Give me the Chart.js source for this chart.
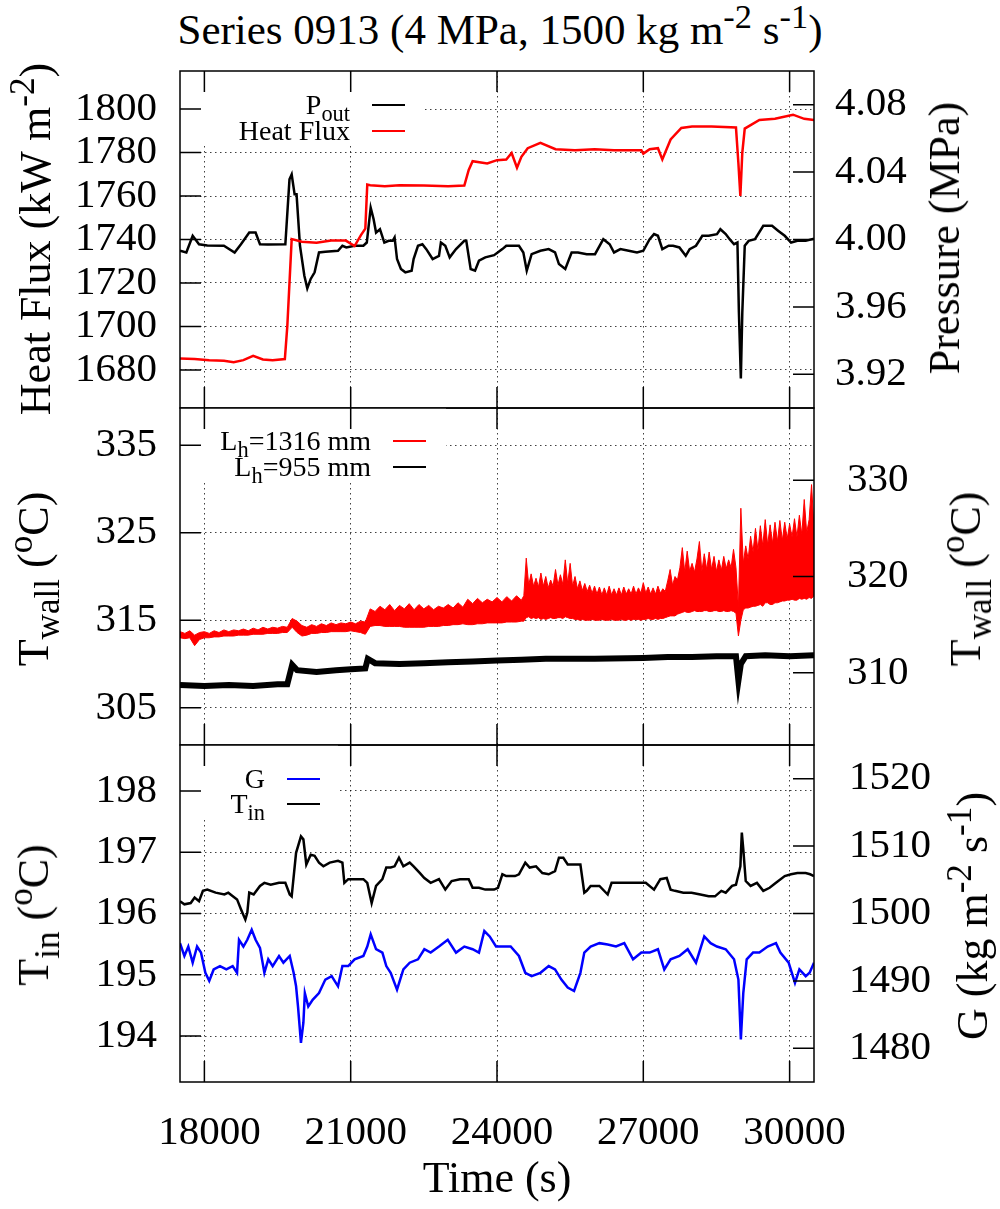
<!DOCTYPE html>
<html>
<head>
<meta charset="utf-8">
<title>Series 0913 (4 MPa, 1500 kg m-2 s-1)</title>
<script src="https://cdn.jsdelivr.net/npm/chart.js"></script>
<style>
  body { margin: 0; background: #fff; }
  #page { position: relative; width: 1000px; height: 1209px; overflow: hidden;
          font-family: "Liberation Serif", "Times New Roman", serif; color: #000; }
  #page canvas { position: absolute; left: 0; }
  .txt { position: absolute; white-space: nowrap; line-height: 1; font-size: 44px; transform: translate(-50%, -50%); }
  .rot { transform: translate(-50%, -50%) rotate(-90deg); }
  .key { position: absolute; white-space: nowrap; line-height: 1; font-size: 28px; text-align: right; transform: translateY(-50%); }
  .swatch { position: absolute; width: 33px; height: 0; border-top: 2.5px solid #000; transform: translateY(-50%); }
  sub, sup { font-size: 0.8em; line-height: 0; }
  sub { vertical-align: -0.3em; }
  sup { vertical-align: 0.45em; }
</style>
</head>
<body>
<div id="page">
  <canvas id="topChart" width="1000" height="345" style="top:67px"></canvas>
  <canvas id="midChart" width="1000" height="345" style="top:404px"></canvas>
  <canvas id="botChart" width="1000" height="421" style="top:741px"></canvas>

  <!-- titles -->
  <div class="txt" style="left:500px;top:29px;font-size:43px">Series 0913 (4 MPa, 1500 kg m<sup>-2</sup> s<sup>-1</sup>)</div>
  <div class="txt" style="left:497px;top:1178px">Time (s)</div>
  <div class="txt rot" style="left:36px;top:239px">Heat Flux (kW m<sup>-2</sup>)</div>
  <div class="txt rot" style="left:945px;top:238px">Pressure (MPa)</div>
  <div class="txt rot" style="left:34px;top:579px">T<sub>wall</sub> (<sup>o</sup>C)</div>
  <div class="txt rot" style="left:966px;top:579px">T<sub>wall</sub> (<sup>o</sup>C)</div>
  <div class="txt rot" style="left:34px;top:915px">T<sub>in</sub> (<sup>o</sup>C)</div>
  <div class="txt rot" style="left:973px;top:916px">G (kg m<sup>-2</sup> s<sup>-1</sup>)</div>

  <!-- keys -->
  <div class="key" style="right:650px;top:105px">P<sub>out</sub></div>
  <div class="swatch" style="left:372px;top:105px;border-color:#000"></div>
  <div class="key" style="right:650px;top:131px">Heat Flux</div>
  <div class="swatch" style="left:372px;top:131px;border-color:#f00"></div>

  <div class="key" style="right:629px;top:441px">L<sub>h</sub>=1316 mm</div>
  <div class="swatch" style="left:393px;top:441px;border-color:#f00"></div>
  <div class="key" style="right:629px;top:467px">L<sub>h</sub>=955 mm</div>
  <div class="swatch" style="left:393px;top:467px;border-color:#000"></div>

  <div class="key" style="right:735px;top:779px">G</div>
  <div class="swatch" style="left:287px;top:779px;border-color:#00f"></div>
  <div class="key" style="right:735px;top:804px">T<sub>in</sub></div>
  <div class="swatch" style="left:287px;top:804px;border-color:#000"></div>
</div>

<script>
// ---- axis ticks ----
const timeTicks = [18000, 21000, 24000, 27000, 30000];
const hfTicks = [1680, 1700, 1720, 1740, 1760, 1780, 1800];
const pTicks = [3.92, 3.96, 4.00, 4.04, 4.08];
const twLeftTicks = [305, 315, 325, 335];
const twRightTicks = [310, 320, 330];
const tinTicks = [194, 195, 196, 197, 198];
const gTicks = [1480, 1490, 1500, 1510, 1520];

// ---- top panel: heat flux (left) and outlet pressure (right) ----
const hfTime = [17500,17800,18100,18400,18600,18800,19000,19200,19400,19650,19700,19790,20000,20300,20600,20900,21080,21210,21300,21340,21400,21700,22000,22500,23000,23330,23420,23500,23800,24000,24190,24300,24410,24500,24630,24890,25200,25600,26000,26400,26960,27000,27130,27300,27390,27560,27780,28000,28400,28900,28950,28990,29030,29080,29380,29700,30070,30300,30500];
const hfVal = [1685.3,1685.0,1684.5,1684.2,1683.6,1684.5,1686.5,1684.8,1684.5,1685.0,1700.0,1740.2,1739.0,1738.5,1739.5,1739.5,1737.0,1742.0,1745.0,1765.3,1765.0,1764.5,1765.0,1764.8,1764.5,1764.8,1772.0,1776.0,1775.0,1776.5,1776.8,1779.8,1773.0,1778.0,1782.0,1784.5,1781.5,1781.0,1781.5,1781.0,1781.0,1779.5,1781.5,1782.0,1776.8,1786.0,1791.3,1792.0,1792.0,1791.5,1775.0,1760.0,1780.0,1791.0,1795.0,1795.5,1797.4,1795.5,1795.0];

const pTime = [17500,17630,17760,17890,18060,18400,18620,18750,18920,19050,19140,19300,19660,19745,19790,19850,19890,19960,20050,20110,20180,20260,20350,20480,20740,20830,20910,21080,21260,21330,21410,21470,21520,21600,21690,21780,21860,21900,21950,22030,22120,22250,22290,22380,22470,22550,22680,22810,22850,22940,23030,23160,23330,23370,23460,23550,23630,23760,23940,24110,24190,24450,24540,24610,24710,24890,25060,25190,25270,25400,25530,25660,25840,26010,26180,26310,26400,26530,26700,26870,27000,27130,27220,27300,27390,27520,27610,27740,27870,27950,28080,28210,28340,28510,28580,28690,28770,28860,28930,28960,29000,29030,29080,29160,29290,29460,29640,29770,29900,30030,30160,30330,30500];
const pVal = [3.9933,3.9923,4.0022,3.9972,3.9965,3.9963,3.9923,3.9972,4.0041,4.0041,3.9972,3.9970,3.9972,4.0357,4.0386,4.0268,4.0268,3.9963,3.9785,3.9710,3.9766,3.9805,3.9923,3.9927,3.9933,3.9963,3.9953,3.9963,3.9963,3.9982,4.0189,4.0120,4.0041,4.0061,3.9982,3.9992,3.9992,4.0012,3.9884,3.9825,3.9805,3.9815,3.9884,3.9963,3.9972,3.9943,3.9884,3.9903,3.9982,3.9963,3.9894,3.9943,3.9992,3.9992,3.9825,3.9815,3.9874,3.9894,3.9907,3.9943,3.9963,3.9963,3.9923,3.9815,3.9913,3.9933,3.9943,3.9923,3.9854,3.9825,3.9923,3.9923,3.9913,3.9913,4.0002,3.9972,3.9923,3.9943,3.9933,3.9923,3.9933,4.0002,4.0032,4.0022,3.9943,3.9963,3.9963,3.9953,3.9903,3.9943,3.9963,4.0022,4.0022,4.0032,4.0061,4.0032,4.0002,3.9972,3.9982,3.9569,3.9175,3.9569,3.9963,3.9992,4.0002,4.0081,4.0081,4.0051,4.0022,3.9982,3.9992,3.9992,4.0005];

// ---- middle panel: wall temperatures ----
// the noisy 1316 mm trace is kept as its upper and lower envelope
const twTime = [
  17500,17600,17700,17800,17900,18000,18100,18200,18300,18400,
  18500,18600,18700,18800,18900,19000,19100,19200,19300,19400,
  19500,19600,19700,19800,19900,20000,20100,20200,20300,20400,
  20500,20600,20700,20800,20900,21000,21100,21200,21300,21400,
  21500,21600,21700,21800,21900,22000,22100,22200,22300,22400,
  22500,22600,22700,22800,22900,23000,23100,23200,23300,23400,
  23500,23600,23700,23800,23900,24000,24100,24200,24300,24400,
  24500,
  24550,24600,24650,24700,24750,24800,24850,24900,24950,25000,
  25050,25100,25150,25200,25250,25300,25350,25400,25450,25500,
  25550,25600,25650,25700,25750,25800,25850,25900,25950,26000,
  26050,26100,26150,26200,26250,26300,26350,26400,26450,26500,
  26550,26600,26650,26700,26750,26800,26850,26900,26950,27000,
  27050,27100,27150,27200,27250,27300,27350,27400,27450,27500,
  27550,27600,27650,27700,27750,27800,27850,27900,27950,28000,
  28050,28100,28150,28200,28250,28300,28350,28400,28450,28500,
  28550,28600,28650,28700,28750,28800,28850,28900,28950,29000,
  29050,29100,29150,29200,29250,29300,29350,29400,29450,29500,
  29550,29600,29650,29700,29750,29800,29850,29900,29950,30000,
  30050,30100,30150,30200,30250,30300,30350,30400,30450,30500];
const tw1316High = [
  313.7,313.5,313.8,313.3,313.6,313.7,313.5,313.8,313.6,313.9,
  313.7,313.9,313.8,314.0,313.8,314.1,313.9,314.2,314.0,314.2,
  314.1,314.3,314.2,315.2,314.9,314.4,314.2,314.5,314.3,314.6,
  314.4,314.7,314.5,314.7,314.6,314.8,314.6,314.9,314.8,316.3,
  316.0,316.6,316.2,316.8,316.1,316.7,316.3,316.9,316.2,316.8,
  316.3,316.7,316.2,316.6,316.4,316.8,316.4,317.0,316.5,317.4,
  316.9,317.5,317.0,317.4,317.1,317.6,317.1,317.7,317.2,317.8,
  317.3,
  317.8,322.1,319.0,320.3,318.9,319.8,318.8,320.4,318.9,320.0,
  318.7,319.6,318.9,320.8,319.0,320.2,319.1,321.9,319.2,321.5,
  318.9,320.0,318.6,319.5,318.4,319.2,318.3,319.0,318.1,318.9,
  318.0,318.8,317.9,318.7,317.9,318.9,317.9,318.6,317.9,318.7,
  317.9,318.8,318.0,318.6,318.0,318.9,318.0,318.7,318.1,319.3,
  318.1,318.8,318.0,318.7,318.0,318.9,318.1,318.6,318.3,319.5,
  320.8,319.0,320.0,319.6,321.0,323.3,320.5,322.9,320.6,321.5,
  320.5,322.0,324.0,320.6,322.6,320.8,322.8,320.8,322.3,320.6,
  321.9,320.7,322.3,320.9,321.9,321.0,323.1,321.0,316.5,327.8,
  321.5,323.5,322.0,324.6,322.8,325.5,323.0,325.8,323.5,326.5,
  323.6,325.9,323.8,326.2,324.0,326.4,324.1,326.2,324.3,326.0,
  324.5,326.6,324.5,327.0,324.8,328.8,325.0,326.5,330.5,325.5];
const tw1316Low = [
  313.0,312.9,313.0,312.1,312.8,313.0,313.0,313.1,313.1,313.2,
  313.2,313.2,313.3,313.3,313.3,313.4,313.4,313.4,313.5,313.5,
  313.5,313.6,313.6,314.2,313.6,313.2,313.3,313.5,313.5,313.6,
  313.6,313.7,313.7,313.7,313.7,313.8,313.7,313.6,313.4,314.3,
  314.4,314.4,314.3,314.3,314.3,314.3,314.2,314.2,314.2,314.2,
  314.2,314.3,314.3,314.3,314.4,314.4,314.5,314.5,314.6,314.5,
  314.5,314.6,314.6,314.7,314.7,314.7,314.7,314.8,314.8,314.8,
  314.9,
  314.9,315.3,315.4,315.2,315.3,315.2,315.3,315.1,315.2,315.1,
  315.2,315.3,315.2,315.2,315.3,315.3,315.2,315.4,315.3,315.2,
  315.2,315.1,315.1,315.0,315.1,315.0,315.0,315.0,315.1,315.0,
  315.0,315.0,315.1,315.0,315.0,315.0,315.1,315.0,315.0,315.0,
  315.1,315.0,315.0,315.1,315.0,315.1,315.1,315.1,315.0,315.1,
  315.1,315.2,315.1,315.1,315.2,315.1,315.2,315.2,315.3,315.4,
  315.5,315.5,315.5,315.7,315.8,315.9,316.0,315.9,315.9,316.0,
  316.1,316.0,316.0,316.0,316.1,316.1,316.0,316.0,316.1,316.1,
  316.0,316.0,316.1,316.0,316.0,316.1,316.0,315.8,313.2,315.0,
  316.2,316.4,316.4,316.5,316.6,316.6,316.7,316.8,316.6,317.0,
  317.0,316.8,316.8,317.0,317.0,317.1,317.2,317.2,317.3,317.3,
  317.4,317.3,317.3,317.5,317.4,317.5,317.4,317.6,317.5,317.8];

const tw955Time = [17500,18000,18500,19000,19500,19700,19800,19900,20300,20700,21000,21300,21350,21500,22000,22500,23000,23500,24000,24500,25000,26000,27000,27500,28000,28500,28900,28950,29000,29100,29500,30000,30500];
const tw955Val = [307.6,307.5,307.6,307.5,307.7,307.7,309.9,309.3,309.1,309.3,309.4,309.5,310.6,310.1,310.0,310.1,310.2,310.3,310.4,310.5,310.6,310.6,310.7,310.8,310.8,310.9,310.9,308.1,310.0,310.9,311.0,310.9,311.0];

// ---- bottom panel: inlet temperature (left) and mass flux (right) ----
const tinTime = [17500,17590,17720,17800,17890,17970,18060,18230,18410,18490,18670,18750,18840,18880,18920,19010,19140,19230,19360,19530,19660,19750,19790,19880,19980,20030,20090,20180,20260,20350,20440,20570,20740,20830,20870,20950,21080,21260,21340,21430,21520,21650,21730,21820,21900,21990,22080,22210,22290,22420,22510,22640,22810,22940,23070,23240,23420,23500,23630,23760,23940,24020,24110,24190,24370,24450,24580,24670,24800,24930,25060,25190,25270,25360,25450,25580,25710,25790,25840,25920,26100,26270,26350,26530,26700,26870,27050,27220,27350,27480,27560,27650,27820,27990,28170,28340,28470,28600,28690,28820,28900,28990,29020,29050,29100,29200,29330,29460,29590,29720,29900,30030,30160,30330,30420,30500];
const tinVal = [196.20,196.15,196.17,196.26,196.20,196.37,196.39,196.34,196.31,196.34,196.23,196.07,195.90,196.01,196.34,196.31,196.45,196.50,196.47,196.50,196.50,196.31,196.28,196.99,197.26,197.21,196.80,196.96,196.94,196.83,196.77,196.83,196.86,196.83,196.50,196.56,196.56,196.56,196.50,196.17,196.45,196.56,196.75,196.75,196.77,196.91,196.77,196.83,196.77,196.66,196.58,196.50,196.56,196.39,196.53,196.56,196.56,196.42,196.42,196.39,196.39,196.42,196.64,196.61,196.61,196.64,196.83,196.75,196.77,196.66,196.64,196.69,196.91,196.91,196.80,196.80,196.80,196.34,196.37,196.45,196.45,196.31,196.50,196.50,196.50,196.50,196.50,196.39,196.56,196.58,196.39,196.37,196.34,196.34,196.31,196.28,196.28,196.37,196.34,196.45,196.47,196.77,197.32,197.05,196.53,196.45,196.50,196.37,196.42,196.50,196.61,196.64,196.66,196.66,196.64,196.61];

const gTime = [17500,17590,17670,17760,17850,17930,18020,18100,18190,18320,18450,18580,18670,18710,18800,18880,18970,19050,19140,19230,19310,19400,19530,19620,19750,19830,19880,19920,19980,20030,20060,20130,20220,20350,20480,20610,20740,20830,20950,21080,21260,21340,21410,21520,21650,21730,21820,21950,22080,22210,22380,22510,22640,22810,22990,23160,23330,23500,23630,23740,23850,23980,24110,24280,24450,24580,24710,24890,25060,25190,25320,25450,25580,25710,25790,25920,26100,26270,26440,26610,26790,26960,27130,27300,27430,27560,27740,27910,28080,28250,28380,28510,28690,28860,28950,29000,29050,29120,29250,29380,29550,29720,29810,29980,30110,30200,30330,30410,30500];
const gVal = [1495.6,1493.7,1495.1,1492.7,1495.1,1494.2,1491.2,1490.0,1491.7,1492.2,1491.7,1492.2,1491.2,1496.1,1495.1,1496.1,1497.6,1496.1,1494.9,1491.2,1493.2,1492.2,1493.7,1492.7,1493.7,1491.2,1489.2,1486.2,1480.8,1483.8,1488.2,1486.2,1487.2,1488.2,1490.2,1490.7,1489.2,1492.2,1492.2,1493.2,1493.7,1495.1,1496.9,1494.7,1494.2,1492.2,1491.2,1488.7,1491.7,1492.7,1493.2,1494.7,1494.2,1495.1,1496.1,1494.2,1495.1,1494.7,1494.2,1497.4,1496.6,1495.1,1495.1,1495.1,1493.7,1491.2,1490.7,1491.2,1492.2,1491.7,1490.2,1489.0,1488.5,1491.2,1494.2,1495.1,1495.6,1495.4,1495.1,1495.6,1493.2,1494.2,1494.2,1494.7,1491.7,1493.2,1493.7,1494.7,1492.7,1496.6,1495.6,1495.1,1494.7,1493.2,1490.2,1481.3,1488.2,1493.2,1494.2,1494.2,1495.1,1495.6,1494.2,1492.7,1489.7,1491.7,1490.7,1491.2,1492.7];

const RED = '#ff0000';
const BLUE = '#0000ff';
const FONT = { family: "'Liberation Serif', 'Times New Roman', serif", size: 41 };
const GRID = 'rgba(0,0,0,0.75)';
const TICK = 21;

function pts(ts, vs) { return ts.map((t, i) => ({ x: t, y: vs[i] })); }
function useTicks(list) { return s => { s.ticks = list.map(v => ({ value: v })); }; }
// fixed box sizes so the three plot areas line up edge to edge
function fitBox(w, h) {
  return s => {
    if (w !== null) s.width = w;
    if (h !== null) s.height = h;
    s.paddingTop = 0; s.paddingBottom = 0; s.paddingLeft = 0; s.paddingRight = 0;
  };
}

// gnuplot look: opaque key box, inward ticks on all edges, closed frame
const gnuFrame = {
  id: 'gnuFrame',
  beforeDatasetsDraw(chart, args, o) {
    const a = chart.chartArea, c = chart.ctx;
    c.save();
    c.fillStyle = '#fff';
    c.fillRect(a.left, a.top, o.keyW, o.keyH);
    c.restore();
  },
  afterDraw(chart) {
    const a = chart.chartArea, c = chart.ctx, s = chart.scales;
    c.save();
    c.strokeStyle = '#000';
    c.lineWidth = 1.5;
    c.beginPath();
    s.x.ticks.forEach(t => {
      const p = s.x.getPixelForValue(t.value);
      c.moveTo(p, a.top); c.lineTo(p, a.top + TICK);
      c.moveTo(p, a.bottom); c.lineTo(p, a.bottom - TICK);
    });
    s.y.ticks.forEach(t => {
      const p = s.y.getPixelForValue(t.value);
      c.moveTo(a.left, p); c.lineTo(a.left + TICK, p);
    });
    s.y2.ticks.forEach(t => {
      const p = s.y2.getPixelForValue(t.value);
      c.moveTo(a.right, p); c.lineTo(a.right - TICK, p);
    });
    c.stroke();
    c.strokeRect(a.left, a.top, a.right - a.left, a.bottom - a.top);
    c.restore();
  }
};

function makePanel(id, cfg) {
  const showX = !!cfg.showX;
  return new Chart(document.getElementById(id), {
    type: 'line',
    data: { datasets: cfg.datasets },
    options: {
      responsive: false,
      animation: false,
      events: [],
      layout: { padding: { top: 4, bottom: showX ? 0 : 4, left: 0, right: 0 } },
      elements: { point: { radius: 0 }, line: { tension: 0 } },
      plugins: {
        legend: { display: false },
        tooltip: { enabled: false },
        gnuFrame: { keyW: cfg.keyW, keyH: 72 }
      },
      scales: {
        x: {
          type: 'linear', min: 17500, max: 30500,
          afterBuildTicks: useTicks(timeTicks),
          afterFit: fitBox(null, showX ? 80 : 0),
          grid: { color: GRID, lineWidth: 1, drawTicks: false },
          border: { display: false, dash: [1.5, 3.5] },
          ticks: { display: showX, padding: 27, labelOffset: 5, color: '#000', font: FONT, maxRotation: 0, autoSkip: false,
                   callback: v => String(v) }
        },
        y: {
          position: 'left', min: cfg.y.min, max: cfg.y.max,
          afterBuildTicks: useTicks(cfg.y.ticks),
          afterFit: fitBox(180, null),
          grid: { color: GRID, lineWidth: 1, drawTicks: false },
          border: { display: false, dash: [1.5, 3.5] },
          ticks: { padding: 23, color: '#000', font: FONT, autoSkip: false, callback: cfg.y.fmt }
        },
        y2: {
          position: 'right', min: cfg.y2.min, max: cfg.y2.max,
          afterBuildTicks: useTicks(cfg.y2.ticks),
          afterFit: fitBox(186, null),
          grid: { display: false, drawTicks: false },
          border: { display: false },
          ticks: { padding: cfg.y2.pad, color: '#000', font: FONT, autoSkip: false, callback: cfg.y2.fmt }
        }
      }
    },
    plugins: [gnuFrame]
  });
}

const plain = v => String(v);

makePanel('topChart', {
  keyW: 245,
  datasets: [
    { label: 'Heat Flux', data: pts(hfTime, hfVal), borderColor: RED, borderWidth: 2.5, yAxisID: 'y' },
    { label: 'P_out', data: pts(pTime, pVal), borderColor: '#000', borderWidth: 2.5, yAxisID: 'y2' }
  ],
  y: { min: 1662.5, max: 1817.5, ticks: hfTicks, fmt: plain },
  y2: { min: 3.90, max: 4.10, ticks: pTicks, fmt: v => v.toFixed(2), pad: 21 }
});

makePanel('midChart', {
  keyW: 266,
  datasets: [
    { label: 'L_h=1316 mm', data: pts(twTime, tw1316High), borderColor: RED, backgroundColor: RED, borderWidth: 1, fill: '+1', yAxisID: 'y' },
    { label: 'L_h=1316 mm (low)', data: pts(twTime, tw1316Low), borderColor: RED, borderWidth: 1, fill: false, yAxisID: 'y' },
    { label: 'L_h=955 mm', data: pts(tw955Time, tw955Val), borderColor: '#000', borderWidth: 6, yAxisID: 'y' }
  ],
  y: { min: 300.75, max: 339.25, ticks: twLeftTicks, fmt: plain },
  y2: { min: 302.5, max: 337.5, ticks: twRightTicks, fmt: plain, pad: 33 }
});

makePanel('botChart', {
  keyW: 158,
  showX: true,
  datasets: [
    { label: 'T_in', data: pts(tinTime, tinVal), borderColor: '#000', borderWidth: 2.5, yAxisID: 'y' },
    { label: 'G', data: pts(gTime, gVal), borderColor: BLUE, borderWidth: 2.5, yAxisID: 'y2' }
  ],
  y: { min: 193.25, max: 198.75, ticks: tinTicks, fmt: plain },
  y2: { min: 1475, max: 1525, ticks: gTicks, fmt: plain, pad: 35 }
});
</script>
</body>
</html>
